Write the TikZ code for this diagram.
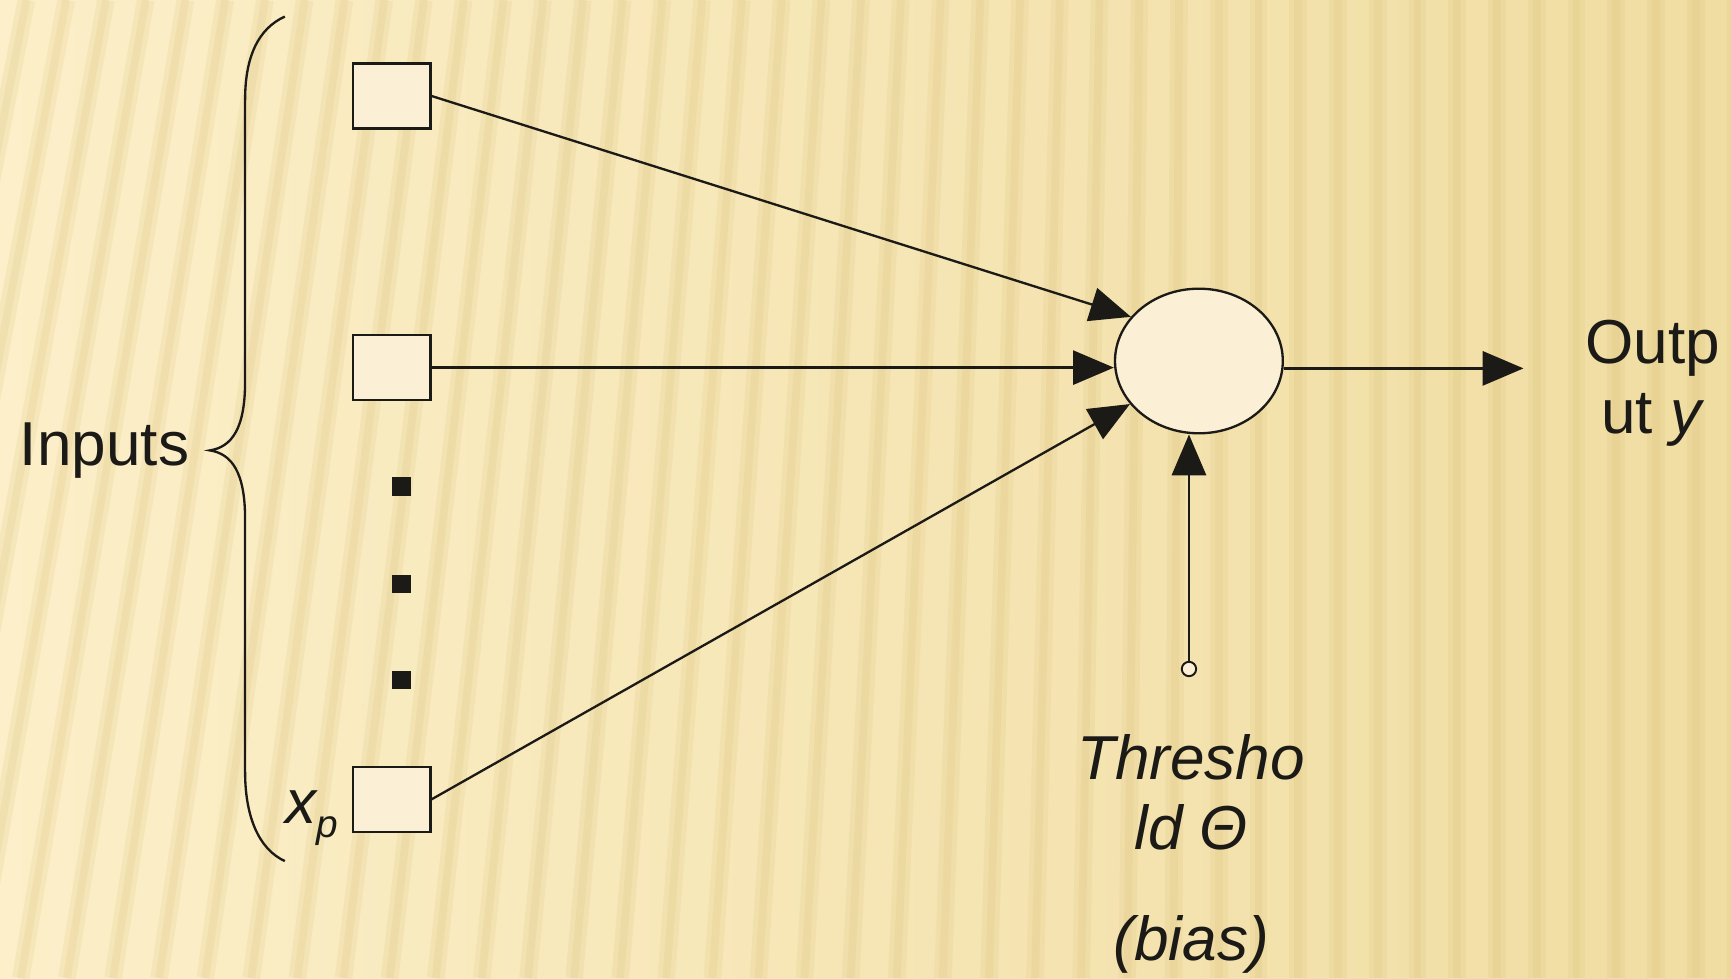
\documentclass[tikz,border=0pt]{standalone}
\usepackage{fontspec}
\setmainfont{Liberation Sans}
\usetikzlibrary{positioning,shapes.geometric,arrows.meta}
\definecolor{paperl}{HTML}{FCEFC9}
\definecolor{paperr}{HTML}{F0DDA2}
\definecolor{stripe}{HTML}{D6BA6E}
\definecolor{ink}{HTML}{1C1A17}
\definecolor{cellfill}{HTML}{FBF0D6}

\begin{document}
\begin{tikzpicture}[
box/.style={draw=ink,line width=0.6pt,fill=cellfill,rectangle,minimum width=0.70cm,minimum height=0.59cm,inner sep=0},
dot/.style={fill=ink,rectangle,minimum size=0.17cm,inner sep=0},
lbl/.style={text=ink,inner sep=0,font=\fontsize{16}{18}\selectfont},
conn/.style={draw=ink,line width=0.6pt,-{Triangle[length=0.37cm,width=0.31cm]}}]

% paper with soft stripes
\useasboundingbox (0,0) rectangle (15.68,8.86);
\shade[left color=paperl,right color=paperr] (0,0) rectangle (15.68,8.86);
\begin{scope}
\clip (0,0) rectangle (15.68,8.86);
\foreach \t in {-3.0,-2.64,...,16.2} {
  \pgfmathsetmacro{\s}{max(0,11-\t)*0.16}
  \draw[stripe,line width=0.16cm,opacity=0.15] (\t-\s,0) -- (\t,8.86);
  \draw[stripe,line width=0.07cm,opacity=0.15] (\t-\s,0) -- (\t,8.86);
}
\end{scope}

% input cells
\node (xone) [box] at (3.55,7.99) {};
\node (xtwo) [box] at (3.55,5.53) {};
\node (xp) [box,
    label={[lbl,label distance=0.12cm,yshift=-0.17cm]left:\itshape x{\fontsize{10}{12}\selectfont\raisebox{-1.3mm}{p}}}] at (3.55,1.62) {};
\foreach \i/\y in {1/4.45,2/3.57,3/2.70}
  \node (dot\i) [dot] at (3.64,\y) {};

% summing unit and threshold input
\node (sum) [draw=ink,line width=0.6pt,fill=cellfill,ellipse,
    minimum width=1.52cm,minimum height=1.31cm,inner sep=0] at (10.86,5.59) {};
\node (thr) [draw=ink,line width=0.5pt,fill=cellfill,circle,
    minimum size=0.13cm,inner sep=0] at (10.77,2.80) {};
\coordinate (yend) at (13.80,5.53);

\draw[conn] (xone.east) -- (sum.147);
\draw[conn] (xtwo.east) -- (xtwo.east -| sum.west);
\draw[conn] (xp.east) -- (sum.212);
\draw[conn] (sum.-5) -- (sum.-5 -| yend);
\draw[conn] (thr.north) -- (thr.north |- sum.south);

% brace round the inputs
\coordinate (tip) at (1.90,4.78);
\draw[ink,line width=0.6pt] (2.58,8.71) .. controls (2.34,8.60) and (2.22,8.35) .. (2.22,7.95)
  -- (2.22,5.40) .. controls (2.22,4.98) and (2.10,4.81) .. (tip)
  .. controls (2.10,4.75) and (2.22,4.58) .. (2.22,4.16)
  -- (2.22,1.87) .. controls (2.22,1.47) and (2.34,1.17) .. (2.58,1.06);

\node (inlbl) [lbl,left=0.18cm of tip] {Inputs};
\node (outlbl) [lbl,anchor=north,align=center] at (14.97,5.97) {Outp\\ut \textit{y}};
\node (thrlbl) [lbl,anchor=north,align=center,font=\fontsize{16}{18}\selectfont\itshape]
  at (10.79,2.21) {Thresho\\ld Θ\\[0.37cm](bias)};
\end{tikzpicture}
\end{document}
